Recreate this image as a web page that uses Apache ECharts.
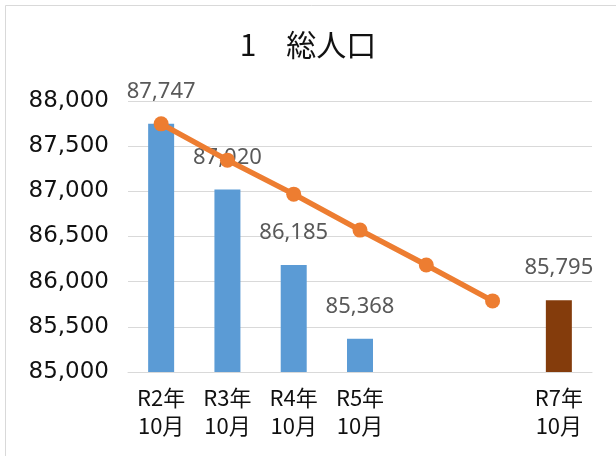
<!DOCTYPE html>
<html>
<head>
<meta charset="utf-8">
<script src="https://cdn.jsdelivr.net/npm/echarts@6/dist/echarts.min.js"></script>
<style>
  html, body { margin: 0; padding: 0; background: #fff; }
  #main { width: 616px; height: 456px; }
</style>
</head>
<body>
<div id="main"></div>
<script>
var chartTitle = '1\u3000総人口';
var categories = ['R2年\n10月', 'R3年\n10月', 'R4年\n10月', 'R5年\n10月', '', '', 'R7年\n10月'];
var barValues = [87747, 87020, 86185, 85368, null, null, 85795];
var trendValues = [87747, 87345, 86969, 86571, 86184, 85787, null];
var yTicks = [85000, 85500, 86000, 86500, 87000, 87500, 88000];

/** 数値をカンマ区切りに */
function fmt(v) {
    return String(v).replace(/\B(?=(\d{3})+(?!\d))/g, ',');
}

var chart = echarts.init(document.getElementById('main'), null, { renderer: 'canvas' });

var option = {
    backgroundColor : '#fff',
    animation : false,
    title : {
        text : chartTitle,
        left : 'center',
        top : 25,
        textStyle : {
            fontFamily : 'Noto Sans CJK JP',
            fontSize : 30,
            fontWeight : 'normal',
            color : '#111'
        }
    },
    graphic : [ {
        type : 'rect',
        shape : { x : 5.5, y : 5.5, width : 700, height : 600 },
        style : { fill : 'none', stroke : '#D9D9D9', lineWidth : 1 },
        silent : true
    } ],
    grid : {
        left : 128,
        right : 24,
        top : 101,
        bottom : 84
    },
    xAxis : [ {
        type : 'category',
        data : categories,
        boundaryGap : true,
        axisTick : { show : false },
        axisLine : { lineStyle : { color : '#D9D9D9', width : 1 } },
        axisLabel : {
            margin : 12,
            interval : 0,
            fontFamily : 'Noto Sans CJK JP',
            fontSize : 22,
            lineHeight : 28,
            color : '#111'
        }
    } ],
    yAxis : [ {
        type : 'value',
        min : yTicks[0],
        max : yTicks[yTicks.length - 1],
        interval : yTicks[1] - yTicks[0],
        axisLine : { show : false },
        axisTick : { show : false },
        splitLine : { lineStyle : { color : '#D9D9D9', width : 1 } },
        axisLabel : {
            margin : 19,
            fontFamily : 'DejaVu Sans',
            fontSize : 23,
            color : '#111',
            formatter : function(v) { return fmt(v); }
        }
    } ],
    series : [ {
        name : '総人口',
        type : 'bar',
        data : barValues,
        barWidth : 26,
        itemStyle : {
            color : function(p) {
                return p.dataIndex === categories.length - 1 ? '#843C0C' : '#5B9BD5';
            }
        },
        label : {
            show : true,
            position : 'top',
            distance : 21,
            fontFamily : 'Noto Sans',
            fontSize : 22,
            color : '#595959',
            formatter : function(p) { return fmt(p.value); }
        },
        z : 2
    }, {
        name : '推計',
        type : 'line',
        data : trendValues,
        symbol : 'circle',
        symbolSize : 15,
        lineStyle : { color : '#ED7D31', width : 5.5 },
        itemStyle : { color : '#ED7D31' },
        z : 3
    } ]
};

chart.setOption(option);
</script>
</body>
</html>
